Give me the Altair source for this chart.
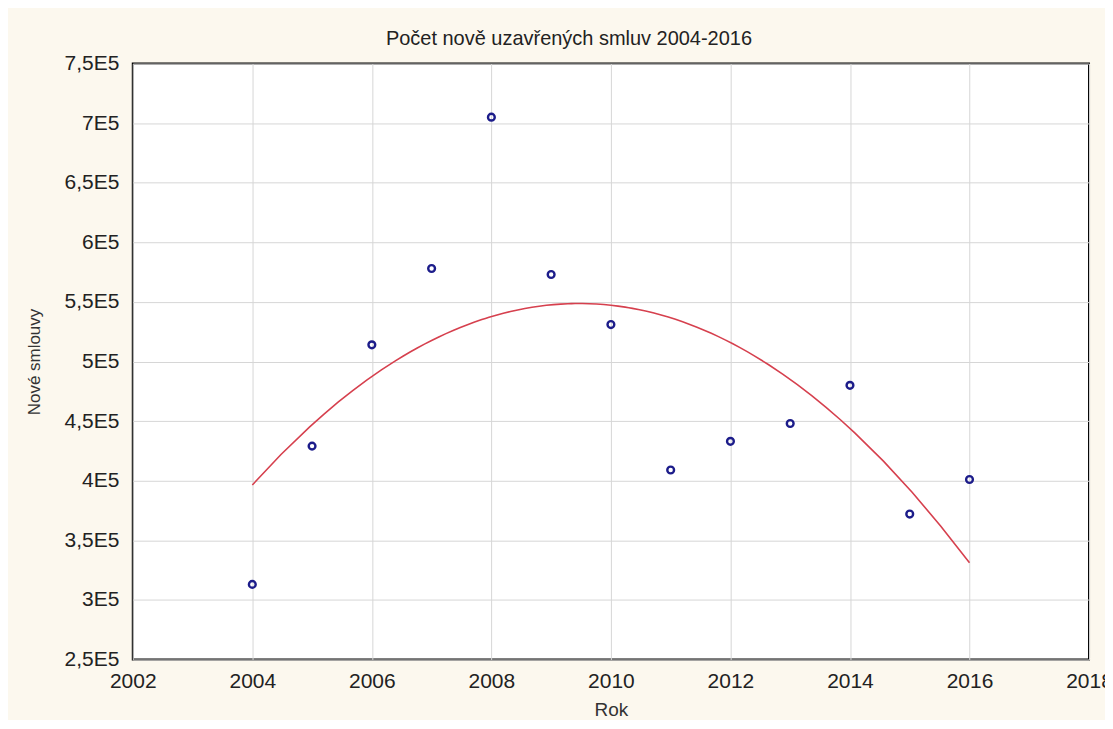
import altair as alt
import pandas as pd

years = [2004, 2005, 2006, 2007, 2008, 2009, 2010, 2011, 2012, 2013, 2014, 2015, 2016]
contracts = [313000, 429000, 514000, 578000, 705000, 573000, 531000, 409000, 433000, 448000, 480000, 372000, 401000]
x_ticks = [2002, 2004, 2006, 2008, 2010, 2012, 2014, 2016, 2018]
y_ticks = [250000, 300000, 350000, 400000, 450000, 500000, 550000, 600000, 650000, 700000, 750000]

df = pd.DataFrame({"Rok": years, "Smlouvy": contracts})

FONT = "Liberation Sans"

x_enc = alt.X("Rok:Q", scale=alt.Scale(domain=[2002, 2018], nice=False, zero=False),
              axis=alt.Axis(values=x_ticks, format="d", title="Rok", titleFontSize=19))
y_enc = alt.Y("Smlouvy:Q", scale=alt.Scale(domain=[250000, 750000], nice=False, zero=False),
              axis=alt.Axis(values=y_ticks, title="Nové smlouvy", titleFontSize=17,
                            labelExpr="replace(toString(datum.value / 100000), '.', ',') + 'E5'"))

base = alt.Chart(df)

points = base.mark_point(shape="circle", filled=False, size=46, strokeWidth=2.4,
                         color="#1c1c8a", opacity=1).encode(x=x_enc, y=y_enc)

fit = base.transform_regression("Rok", "Smlouvy", method="poly", order=2).mark_line(
    color="#d6404e", strokeWidth=1.6).encode(x=x_enc, y=y_enc)

chart = alt.layer(fit, points).properties(
    width=958,
    height=597,
    autosize=alt.AutoSizeParams(type="none"),
    padding={"left": 125, "top": 55, "right": 16, "bottom": 60},
    background="#fcf8ee",
    title=alt.TitleParams("Počet nově uzavřených smluv 2004-2016", font=FONT, fontSize=20,
                          fontWeight="normal", color="#222222", anchor="middle",
                          dx=-42, dy=28, offset=12, baseline="bottom"),
).configure_view(
    fill="white", stroke="black", strokeWidth=2
).configure_axis(
    labelFont=FONT, labelFontSize=21, labelColor="#222222",
    titleFont=FONT, titleFontWeight="normal", titleColor="#333333",
    grid=True, gridColor="#d6d6d6", gridWidth=1,
    domain=False, ticks=False, labelFlush=False, labelOverlap=False,
).configure_axisX(
    labelPadding=11, titlePadding=9
).configure_axisY(
    labelPadding=14, titlePadding=21
)

chart.save("out.html", embed_options={"renderer": "svg", "actions": False})
